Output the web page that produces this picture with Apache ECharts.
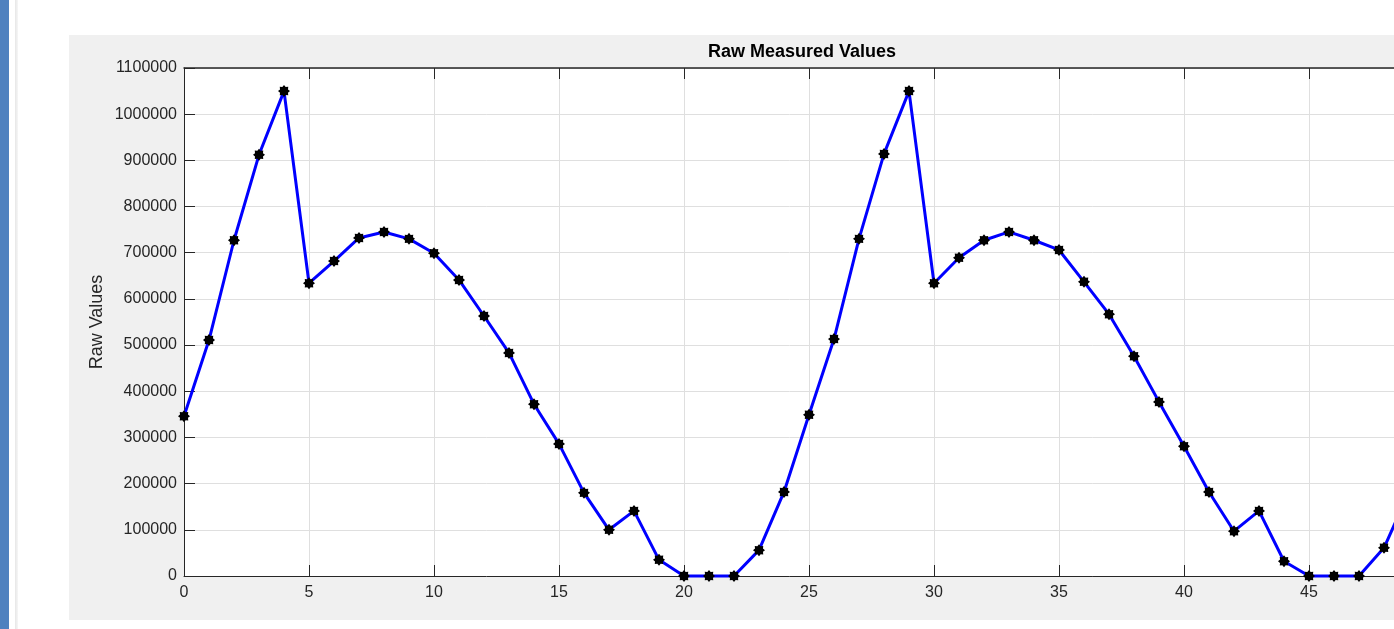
<!DOCTYPE html>
<html>
<head>
<meta charset="utf-8">
<script src="https://cdn.jsdelivr.net/npm/echarts@6/dist/echarts.min.js"></script>
<style>
  html, body { margin: 0; padding: 0; width: 1394px; height: 629px; overflow: hidden; background: #ffffff; }
  #strip { position: absolute; left: 0; top: 0; width: 9px; height: 629px; background: #4f81bf; }
  #shadow { position: absolute; left: 15px; top: 0; width: 3px; height: 629px; background: linear-gradient(to right, #e6e6e6, #f6f6f6); }
  #panel { position: absolute; left: 69px; top: 35px; width: 1325px; height: 585px; background: #f0f0f0; }
  #chart { position: absolute; left: 0; top: 0; width: 1394px; height: 629px; }
</style>
</head>
<body>
<div id="strip"></div>
<div id="shadow"></div>
<div id="panel"></div>
<div id="chart"></div>
<script>
const titleText = 'Raw Measured Values';
const yAxisName = 'Raw Values';
const xValues = [0,1,2,3,4,5,6,7,8,9,10,11,12,13,14,15,16,17,18,19,20,21,22,23,24,25,26,27,28,29,30,31,32,33,34,35,36,37,38,39,40,41,42,43,44,45,46,47,48,49];
const rawValues = [346000,511000,727000,912000,1050000,634000,682000,732000,745000,730000,
                   699000,641000,563000,483000,372000,286000,180000,100000,141000,35000,
                   0,0,0,56000,182000,349000,513000,730000,914000,1050000,
                   634000,689000,727000,745000,727000,706000,637000,567000,476000,377000,
                   281000,182000,97000,141000,32000,0,0,0,61000,182000];

const chart = echarts.init(document.getElementById('chart'), null, { renderer: 'canvas' });
const axisColor = '#262626';
const font = 'Liberation Sans, Arial, Helvetica, sans-serif';
const starPath = 'path://M100 0 L127.6 33.5 L170.7 29.3 L166.5 72.4 L200 100 L166.5 127.6 L170.7 170.7 L127.6 166.5 L100 200 L72.4 166.5 L29.3 170.7 L33.5 127.6 L0 100 L33.5 72.4 L29.3 29.3 L72.4 33.5 Z';

chart.setOption({
  animation: false,
  backgroundColor: 'transparent',
  graphic: [{
    type: 'text', left: 708, top: 43,
    style: { text: titleText, fontSize: 18, fontWeight: 'bold', fontFamily: font, fill: '#000000' }
  }],
  grid: { left: 184, top: 68, width: 1250, height: 508, show: true, backgroundColor: '#ffffff', borderWidth: 0,
          containLabel: false, outerBoundsMode: 'none' },
  xAxis: [{
    type: 'value', position: 'bottom', min: 0, max: 50, interval: 5,
    axisLine: { show: true, onZero: false, lineStyle: { color: axisColor, width: 1 } },
    axisTick: { show: true, inside: true, length: 11, lineStyle: { color: axisColor } },
    axisLabel: { color: axisColor, fontSize: 16, fontFamily: font, margin: 9, formatter: v => String(v) },
    splitLine: { show: true, lineStyle: { color: '#dfdfdf', width: 1 } }
  }, {
    type: 'value', position: 'top', min: 0, max: 50, interval: 5,
    axisLine: { show: true, onZero: false, lineStyle: { color: axisColor, width: 1.5 } },
    axisTick: { show: true, inside: true, length: 11, lineStyle: { color: axisColor } },
    axisLabel: { show: false },
    splitLine: { show: false }
  }],
  yAxis: {
    type: 'value', min: 0, max: 1100000, interval: 100000,
    name: yAxisName, nameLocation: 'middle', nameGap: 78, nameRotate: 90, nameMoveOverlap: false,
    nameTextStyle: { color: axisColor, fontSize: 18, fontFamily: font },
    axisLine: { show: true, onZero: false, lineStyle: { color: axisColor, width: 1 } },
    axisTick: { show: true, inside: true, length: 11, lineStyle: { color: axisColor } },
    axisLabel: { color: axisColor, fontSize: 16, fontFamily: font, margin: 7, formatter: v => String(v) },
    splitLine: { show: true, lineStyle: { color: '#dfdfdf', width: 1 } }
  },
  series: [{
    type: 'line',
    data: xValues.map((x, i) => [x, rawValues[i]]),
    symbol: starPath, symbolSize: 12, showAllSymbol: true,
    lineStyle: { color: '#0000ff', width: 3 },
    itemStyle: { color: '#000000' },
    clip: false
  }]
});
</script>
</body>
</html>
